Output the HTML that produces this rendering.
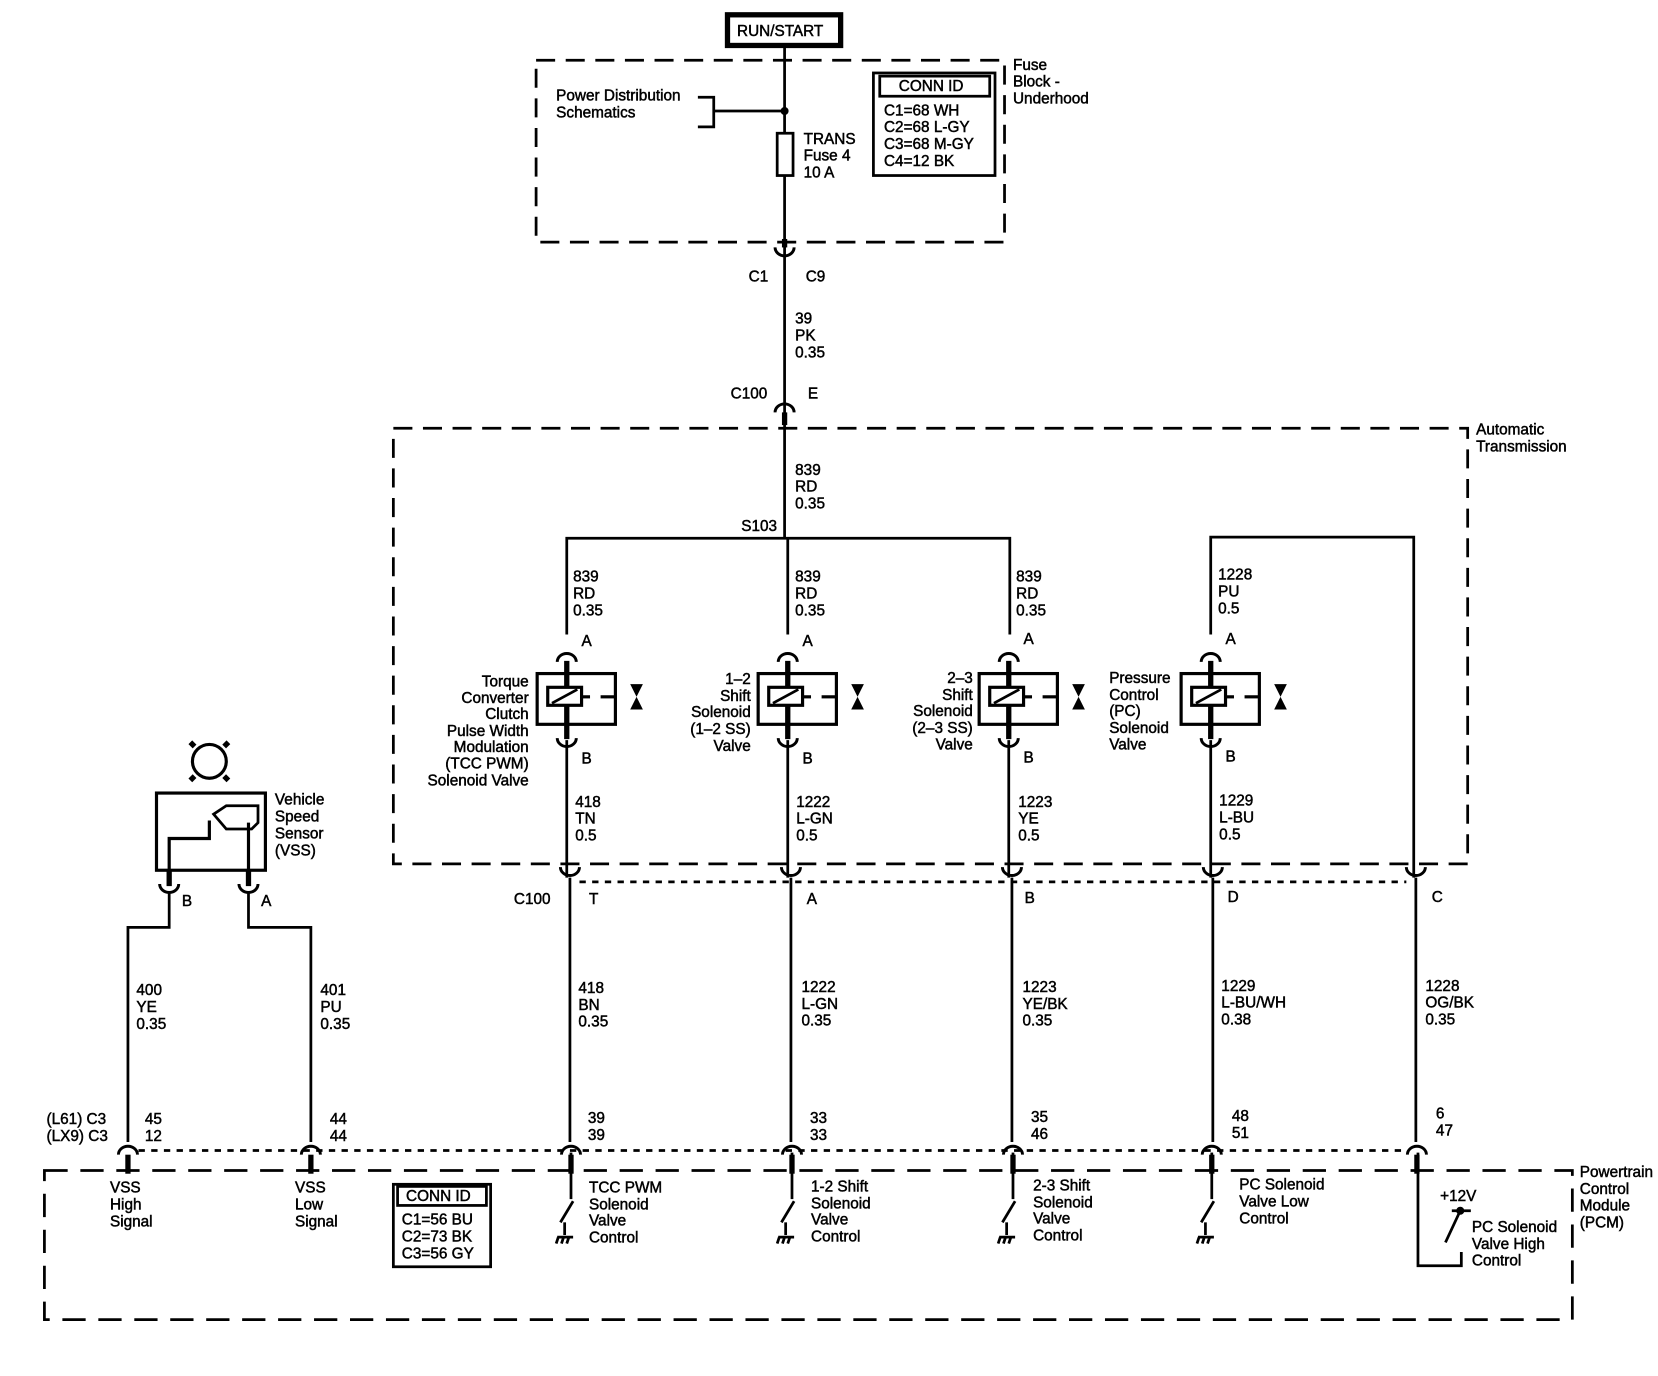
<!DOCTYPE html>
<html><head><meta charset="utf-8"><style>
html,body{margin:0;padding:0;background:#fff;}
svg{display:block;}
text{font-family:"Liberation Sans",sans-serif;font-size:14.5px;fill:#000;stroke:#000;stroke-width:0.45;}
</style></head><body>
<svg width="1658" height="1376" viewBox="0 0 1568 1301.3" preserveAspectRatio="none" xmlns="http://www.w3.org/2000/svg">
<defs>
<g id="up"><path d="M-9,6 A9,8 0 0 1 9,6" fill="none" stroke="#000" stroke-width="2.8"/></g>
<g id="dn"><path d="M-9,-6 A9,8 0 0 0 9,-6" fill="none" stroke="#000" stroke-width="2.8"/></g>
<g id="sol">
<rect x="-28" y="0" width="74" height="48" fill="none" stroke="#000" stroke-width="3"/>
<line x1="0" y1="-12" x2="0" y2="62" stroke="#000" stroke-width="5"/>
<rect x="-18" y="13" width="32" height="17" fill="#fff" stroke="#000" stroke-width="3"/>
<line x1="-14" y1="28" x2="10" y2="15" stroke="#000" stroke-width="2.5"/>
<line x1="14" y1="22" x2="22" y2="22" stroke="#000" stroke-width="3"/>
<line x1="32" y1="22" x2="46" y2="22" stroke="#000" stroke-width="3"/>
<path d="M60,10 L72,10 L60,34 L72,34 Z" fill="#000"/>
</g>
<g id="gnd">
<line x1="0" y1="0" x2="0" y2="44" stroke="#000" stroke-width="2.6"/>
<line x1="2" y1="46" x2="-10" y2="66" stroke="#000" stroke-width="2.6"/>
<line x1="-6" y1="66" x2="-6" y2="78" stroke="#000" stroke-width="2.6"/>
<path d="M-13,80 L2,80 M-12,80 L-14,86 M-7,80 L-9,86 M-2,80 L-4,86" stroke="#000" stroke-width="2.6" fill="none"/>
</g>
</defs>
<g stroke="#000" fill="none" stroke-width="2.6">
<rect x="688" y="14" width="107" height="29" stroke-width="5"/>
<rect x="507" y="57" width="443" height="172" stroke-dasharray="18,10"/>
<line x1="742" y1="44" x2="742" y2="400"/>
<path d="M660,92 H675 V120 H660 M675,105 H742"/>
<circle cx="742" cy="105" r="2.5" fill="#000"/>
<rect x="735" y="126" width="15" height="40" fill="#fff"/>
<rect x="826" y="69" width="115" height="97"/>
<rect x="832" y="72" width="104" height="19"/>
<rect x="372" y="405" width="1016" height="412" stroke-dasharray="18,10"/>
<line x1="742" y1="400" x2="742" y2="509"/>
<path d="M536,600 V509 H955 V600"/>
<line x1="745" y1="509" x2="745" y2="600"/>
<path d="M1145,600 V508 H1337 V830"/>
<line x1="536" y1="700" x2="536" y2="830"/>
<line x1="745" y1="700" x2="745" y2="830"/>
<line x1="954" y1="700" x2="954" y2="830"/>
<line x1="1145" y1="700" x2="1145" y2="830"/>
<line x1="539" y1="830" x2="539" y2="1080"/>
<line x1="748" y1="830" x2="748" y2="1080"/>
<line x1="957" y1="830" x2="957" y2="1080"/>
<line x1="1147" y1="830" x2="1147" y2="1080"/>
<line x1="1339" y1="830" x2="1339" y2="1080"/>
<line x1="548" y1="834" x2="1330" y2="834" stroke-dasharray="6,6"/>
<line x1="131" y1="1088" x2="1330" y2="1088" stroke-dasharray="6,6"/>
<path d="M160,845 V877 H121 V1080"/>
<path d="M235,845 V877 H294 V1080"/>
<rect x="42" y="1107" width="1445" height="141" stroke-dasharray="22,12"/>
<circle cx="198" cy="720" r="16" stroke-width="3"/>
<path d="M184,706 l-4,-4 M212,706 l4,-4 M184,734 l-4,4 M212,734 l4,4" stroke-width="5"/>
<rect x="148" y="750" width="103" height="73" stroke-width="3"/>
<path d="M160,823 V793 H198 V776 M235,823 V778" stroke-width="3"/>
<path d="M202,770 L214,762 H244 V778 L238,784 H214 Z" stroke-width="2.6"/>
<line x1="160" y1="823" x2="160" y2="838" stroke-width="5"/>
<line x1="235" y1="823" x2="235" y2="838" stroke-width="5"/>
<rect x="372" y="1120" width="92" height="78"/>
<rect x="376" y="1122" width="84" height="18"/>
<path d="M1341,1090 V1197 H1382 V1184"/>
<path d="M1373,1145 H1391 M1381,1145 L1367,1175"/>
<circle cx="1381" cy="1145" r="2.5" fill="#000"/>
</g>
<use href="#dn" x="742" y="240"/>
<use href="#up" x="742" y="384"/>
<use href="#up" x="536" y="620"/><use href="#up" x="745" y="620"/><use href="#up" x="954" y="620"/><use href="#up" x="1145" y="620"/>
<use href="#dn" x="536" y="704"/><use href="#dn" x="745" y="704"/><use href="#dn" x="954" y="704"/><use href="#dn" x="1145" y="704"/>
<use href="#dn" x="539" y="826"/><use href="#dn" x="748" y="826"/><use href="#dn" x="957" y="826"/><use href="#dn" x="1147" y="826"/><use href="#dn" x="1339" y="826"/>
<use href="#dn" x="160" y="842"/><use href="#dn" x="235" y="842"/>
<use href="#up" x="121" y="1086"/><use href="#up" x="294" y="1086"/><use href="#up" x="540" y="1086"/><use href="#up" x="749" y="1086"/><use href="#up" x="958" y="1086"/><use href="#up" x="1146" y="1086"/><use href="#up" x="1340" y="1086"/>
<g stroke="#000" stroke-width="5">
<line x1="121" y1="1092" x2="121" y2="1110"/><line x1="294" y1="1092" x2="294" y2="1110"/>
<line x1="540" y1="1092" x2="540" y2="1110"/><line x1="749" y1="1092" x2="749" y2="1110"/><line x1="958" y1="1092" x2="958" y2="1110"/><line x1="1146" y1="1092" x2="1146" y2="1110"/><line x1="1340" y1="1092" x2="1340" y2="1110"/>
<line x1="742" y1="226" x2="742" y2="234"/><line x1="742" y1="390" x2="742" y2="402"/>
</g>
<use href="#sol" x="536" y="637"/><use href="#sol" x="745" y="637"/><use href="#sol" x="954" y="637"/><use href="#sol" x="1145" y="637"/>
<use href="#gnd" x="540" y="1090"/><use href="#gnd" x="749" y="1090"/><use href="#gnd" x="958" y="1090"/><use href="#gnd" x="1146" y="1090"/>
<text x="697" y="34">RUN/START</text>
<text x="958" y="66">Fuse</text><text x="958" y="82">Block -</text><text x="958" y="98">Underhood</text>
<text x="526" y="95">Power Distribution</text><text x="526" y="111">Schematics</text>
<text x="760" y="136">TRANS</text><text x="760" y="152">Fuse 4</text><text x="760" y="168">10 A</text>
<text x="850" y="86">CONN ID</text>
<text x="836" y="109">C1=68 WH</text><text x="836" y="125">C2=68 L-GY</text><text x="836" y="141">C3=68 M-GY</text><text x="836" y="157">C4=12 BK</text>
<text x="708" y="266">C1</text><text x="762" y="266">C9</text>
<text x="752" y="306">39</text><text x="752" y="322">PK</text><text x="752" y="338">0.35</text>
<text x="691" y="377">C100</text><text x="764" y="377">E</text>
<text x="1396" y="411">Automatic</text><text x="1396" y="427">Transmission</text>
<text x="752" y="449">839</text><text x="752" y="465">RD</text><text x="752" y="481">0.35</text>
<text x="701" y="502">S103</text>
<text x="542" y="550">839</text><text x="542" y="566">RD</text><text x="542" y="582">0.35</text>
<text x="752" y="550">839</text><text x="752" y="566">RD</text><text x="752" y="582">0.35</text>
<text x="961" y="550">839</text><text x="961" y="566">RD</text><text x="961" y="582">0.35</text>
<text x="1152" y="548">1228</text><text x="1152" y="564">PU</text><text x="1152" y="580">0.5</text>
<text x="550" y="611">A</text><text x="759" y="611">A</text><text x="968" y="609">A</text><text x="1159" y="609">A</text>
<text x="550" y="722">B</text><text x="759" y="722">B</text><text x="968" y="721">B</text><text x="1159" y="720">B</text>
<g text-anchor="end">
<text x="500" y="649">Torque</text><text x="500" y="665">Converter</text><text x="500" y="680">Clutch</text><text x="500" y="696">Pulse Width</text><text x="500" y="711">Modulation</text><text x="500" y="727">(TCC PWM)</text><text x="500" y="743">Solenoid Valve</text>
<text x="710" y="647">1–2</text><text x="710" y="663">Shift</text><text x="710" y="678">Solenoid</text><text x="710" y="694">(1–2 SS)</text><text x="710" y="710">Valve</text>
<text x="920" y="646">2–3</text><text x="920" y="662">Shift</text><text x="920" y="677">Solenoid</text><text x="920" y="693">(2–3 SS)</text><text x="920" y="709">Valve</text>
</g>
<text x="1049" y="646">Pressure</text><text x="1049" y="662">Control</text><text x="1049" y="677">(PC)</text><text x="1049" y="693">Solenoid</text><text x="1049" y="709">Valve</text>
<text x="544" y="763">418</text><text x="544" y="779">TN</text><text x="544" y="795">0.5</text>
<text x="753" y="763">1222</text><text x="753" y="779">L-GN</text><text x="753" y="795">0.5</text>
<text x="963" y="763">1223</text><text x="963" y="779">YE</text><text x="963" y="795">0.5</text>
<text x="1153" y="762">1229</text><text x="1153" y="778">L-BU</text><text x="1153" y="794">0.5</text>
<text x="260" y="761">Vehicle</text><text x="260" y="777">Speed</text><text x="260" y="793">Sensor</text><text x="260" y="809">(VSS)</text>
<text x="486" y="855">C100</text><text x="557" y="855">T</text><text x="763" y="855">A</text><text x="969" y="854">B</text><text x="1161" y="853">D</text><text x="1354" y="853">C</text>
<text x="172" y="857">B</text><text x="247" y="857">A</text>
<text x="129" y="941">400</text><text x="129" y="957">YE</text><text x="129" y="973">0.35</text>
<text x="303" y="941">401</text><text x="303" y="957">PU</text><text x="303" y="973">0.35</text>
<text x="547" y="939">418</text><text x="547" y="955">BN</text><text x="547" y="971">0.35</text>
<text x="758" y="938">1222</text><text x="758" y="954">L-GN</text><text x="758" y="970">0.35</text>
<text x="967" y="938">1223</text><text x="967" y="954">YE/BK</text><text x="967" y="970">0.35</text>
<text x="1155" y="937">1229</text><text x="1155" y="953">L-BU/WH</text><text x="1155" y="969">0.38</text>
<text x="1348" y="937">1228</text><text x="1348" y="953">OG/BK</text><text x="1348" y="969">0.35</text>
<text x="44" y="1063">(L61) C3</text><text x="44" y="1079">(LX9) C3</text>
<text x="137" y="1063">45</text><text x="137" y="1079">12</text>
<text x="312" y="1063">44</text><text x="312" y="1079">44</text>
<text x="556" y="1062">39</text><text x="556" y="1078">39</text>
<text x="766" y="1062">33</text><text x="766" y="1078">33</text>
<text x="975" y="1061">35</text><text x="975" y="1077">46</text>
<text x="1165" y="1060">48</text><text x="1165" y="1076">51</text>
<text x="1358" y="1058">6</text><text x="1358" y="1074">47</text>
<text x="1494" y="1113">Powertrain</text><text x="1494" y="1129">Control</text><text x="1494" y="1145">Module</text><text x="1494" y="1161">(PCM)</text>
<text x="104" y="1128">VSS</text><text x="104" y="1144">High</text><text x="104" y="1160">Signal</text>
<text x="279" y="1128">VSS</text><text x="279" y="1144">Low</text><text x="279" y="1160">Signal</text>
<text x="384" y="1136">CONN ID</text>
<text x="380" y="1158">C1=56 BU</text><text x="380" y="1174">C2=73 BK</text><text x="380" y="1190">C3=56 GY</text>
<text x="557" y="1128">TCC PWM</text><text x="557" y="1144">Solenoid</text><text x="557" y="1159">Valve</text><text x="557" y="1175">Control</text>
<text x="767" y="1127">1-2 Shift</text><text x="767" y="1143">Solenoid</text><text x="767" y="1158">Valve</text><text x="767" y="1174">Control</text>
<text x="977" y="1126">2-3 Shift</text><text x="977" y="1142">Solenoid</text><text x="977" y="1157">Valve</text><text x="977" y="1173">Control</text>
<text x="1172" y="1125">PC Solenoid</text><text x="1172" y="1141">Valve Low</text><text x="1172" y="1157">Control</text>
<text x="1362" y="1136">+12V</text>
<text x="1392" y="1165">PC Solenoid</text><text x="1392" y="1181">Valve High</text><text x="1392" y="1197">Control</text>
</svg>
</body></html>
